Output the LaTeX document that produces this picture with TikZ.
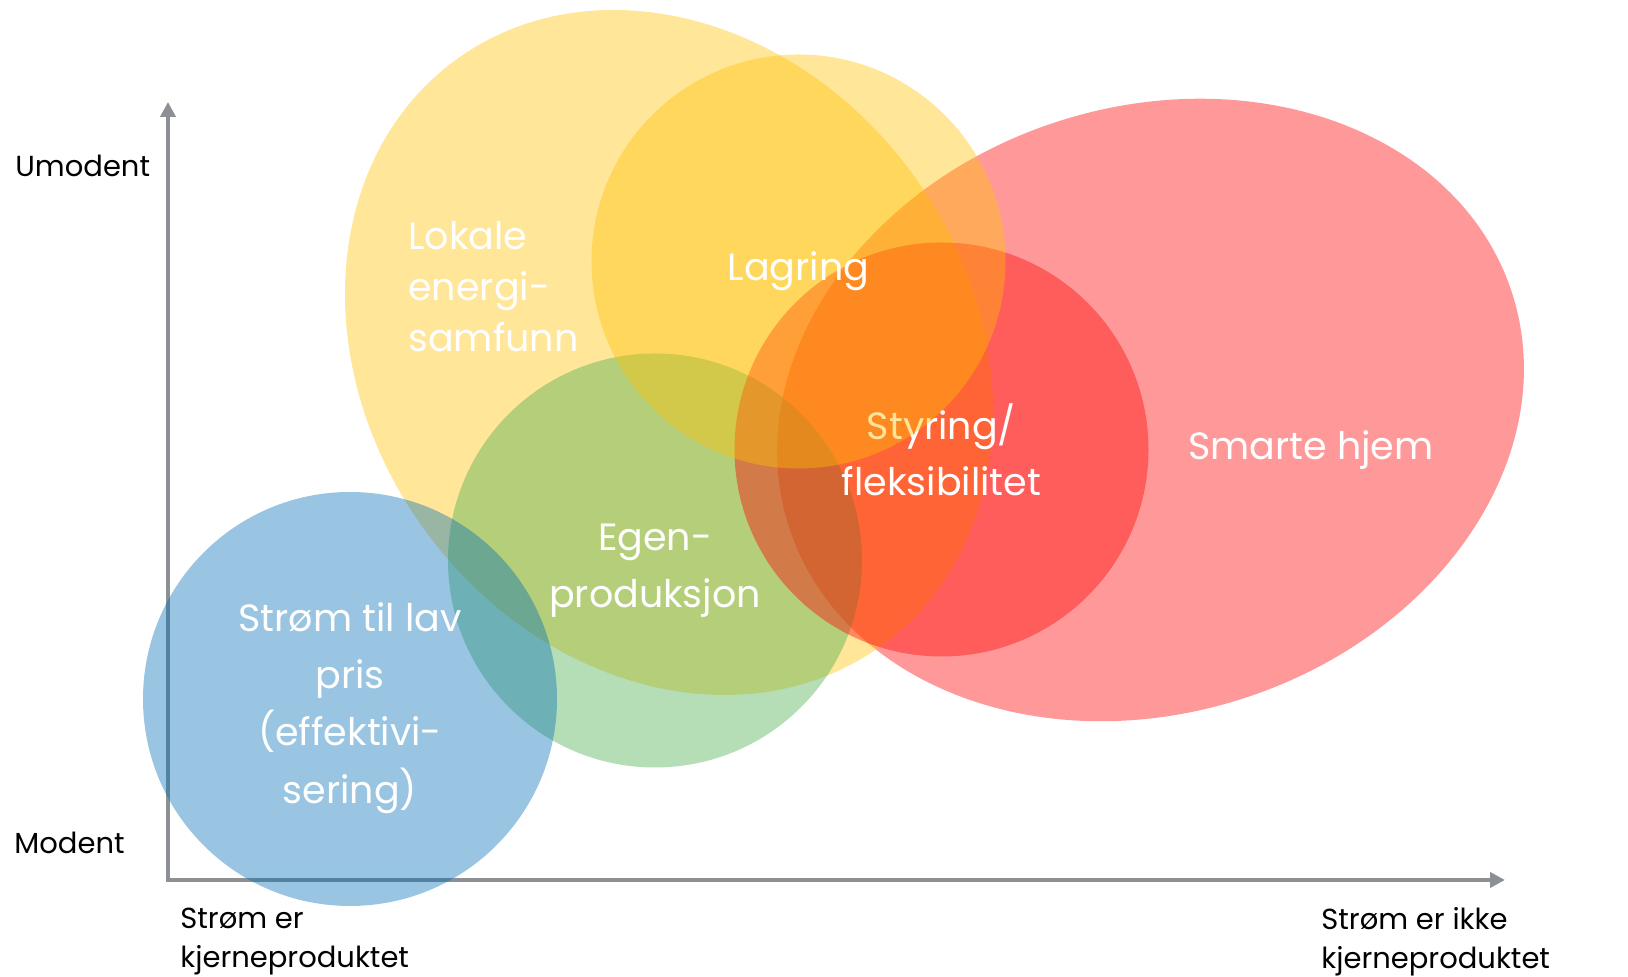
\documentclass[tikz,border=0pt]{standalone}
\usepackage{fontspec}
\setmainfont{Poppins}
\usepackage{tikz}
\usetikzlibrary{arrows.meta}
\definecolor{lokalecol}{RGB}{255,192,0}
\definecolor{smartecol}{RGB}{255,0,0}
\definecolor{egencol}{RGB}{70,172,76}
\definecolor{stromcol}{RGB}{0,110,182}
\definecolor{axisgray}{RGB}{140,144,148}
\tikzstyle{axisline} = [draw=axisgray,line width=2pt,{Triangle[length=7.5pt,width=7.5pt]}-{Triangle[length=7.5pt,width=7.5pt]}]
\tikzstyle{blob} = [fill opacity=0.4]
\tikzstyle{bubble} = [circle,minimum size=207pt,inner sep=0pt,fill opacity=0.4]
\tikzstyle{inside} = [inner sep=0pt,text=white,align=center,font=\fontsize{19}{28.7}\selectfont]
\tikzstyle{tag} = [inner sep=0pt,anchor=west,align=left,font=\fontsize{14.5}{19.5}\selectfont]

\begin{document}
\begin{tikzpicture}[x=0.5pt,y=0.5pt]
          \useasboundingbox (0,0) rectangle (1628,977);

          \coordinate (ytip) at (168,875);
          \coordinate (origin) at (168,97);
          \coordinate (xtip) at (1505,97);
          \draw[axisline] (ytip) -- (origin) -- (xtip);

          \node[tag] (umodent) at (15,811) {Umodent};
          \node[tag] (modent) at (14,134) {Modent};
          \node[tag] (kjerne) at (180,35.5) {Strøm er\\kjerneproduktet};
          \node[tag] (ikkekjerne) at (1321,35.5) {Strøm er ikke\\kjerneproduktet};

          \fill[blob,smartecol,rotate around={18:(1150.5,567)}] (1150.5,567) ellipse [x radius=380,y radius=303];
          \node[inside] (smarte) at (1311,527) {Smarte hjem};

          \fill[blob,lokalecol,rotate around={-54:(669,624.5)}] (669,624.5) ellipse [x radius=362,y radius=302];
          \node[inside] [anchor=west,align=left,font=\fontsize{19}{25.5}\selectfont] (lokale) at (408,690) {Lokale\\energi-\\samfunn};

          \node[bubble] [fill=egencol] (egen) at (655,416.5) {};
          \node[inside] (egentxt) at ([yshift=-5.2pt]egen.center) {Egen-\\produksjon};
          \node[bubble] [fill=smartecol] (styring) at (941.5,527.5) {};
          \node[inside] [font=\fontsize{19}{28}\selectfont] (styringtxt) at (styring.center) {Styring/\\fleksibilitet};
          \node[bubble] [fill=lokalecol] (lagring) at (798.5,715.5) {};
          \node[inside] (lagringtxt) at ([yshift=-4.7pt]lagring.center) {Lagring};
          \node[bubble] [fill=stromcol] (strom) at (350,278) {};
          \node[inside] (stromtxt) at ([yshift=-4.4pt]strom.center) {Strøm til lav\\pris\\(effektivi-\\sering)};
        \end{tikzpicture}
\end{document}
